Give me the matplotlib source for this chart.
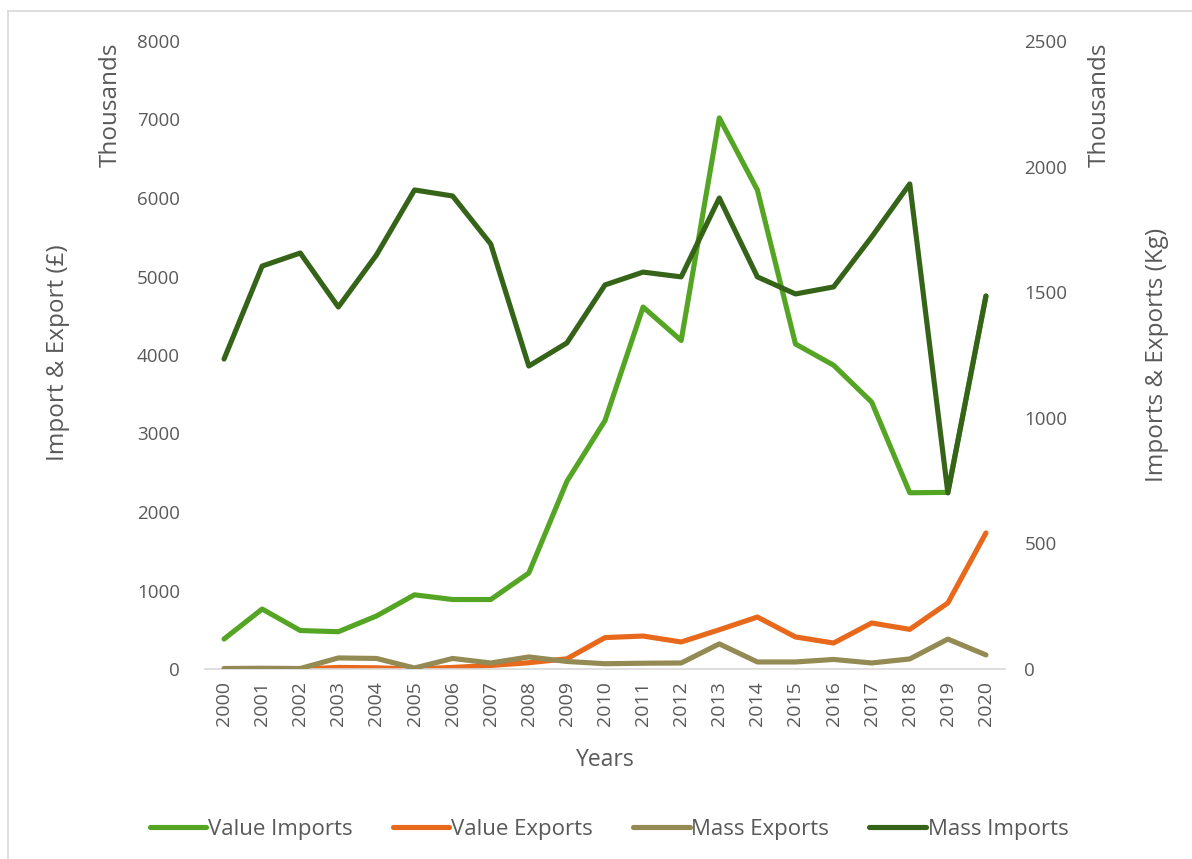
import matplotlib
matplotlib.use("Agg")
import matplotlib.pyplot as plt
from matplotlib import font_manager as fm
from matplotlib.lines import Line2D

years = [str(y) for y in range(2000, 2021)]
value_imports = [382, 764, 490, 475, 675, 945, 885, 885, 1223, 2390, 3165,
                 4611, 4185, 7020, 6102, 4140, 3870, 3400, 2245, 2250, 4750]
value_exports = [0, 5, 0, 20, 15, 0, 20, 45, 80, 130, 400,
                 420, 344, 500, 662, 408, 331, 586, 505, 841, 1733]
mass_exports = [2, 3, 2, 44, 42, 4, 42, 24, 48, 30, 21,
                23, 24, 100, 28, 28, 38, 24, 40, 119, 56]
mass_imports = [1234, 1604, 1656, 1441, 1648, 1907, 1883, 1692, 1206, 1298, 1529,
                1580, 1561, 1875, 1561, 1493, 1521, 1720, 1931, 701, 1485]

names = {f.name for f in fm.fontManager.ttflist}
tick_font = "Open Sans" if "Open Sans" in names else "DejaVu Sans"
label_font = "Liberation Sans Narrow" if "Liberation Sans Narrow" in names else tick_font

TXT = "#595959"
C_VI = "#55a524"
C_VE = "#e8681c"
C_ME = "#948a54"
C_MI = "#356419"
LW = 3.7

fig = plt.figure(figsize=(11.92, 8.59), dpi=100)
W, H = 1192, 859
ax = fig.add_axes([205 / W, 1 - 669 / H, 800 / W, 628 / H])
ax2 = ax.twinx()

x = list(range(len(years)))
ax.plot(x, value_imports, color=C_VI, lw=LW, solid_capstyle="round", solid_joinstyle="round")
ax.plot(x, value_exports, color=C_VE, lw=LW, solid_capstyle="round", solid_joinstyle="round")
ax2.plot(x, mass_exports, color=C_ME, lw=LW, solid_capstyle="round", solid_joinstyle="round")
ax2.plot(x, mass_imports, color=C_MI, lw=LW, solid_capstyle="round", solid_joinstyle="round")

ax.set_xlim(-0.5, len(years) - 0.5)
ax.set_ylim(0, 8000)
ax2.set_ylim(0, 2500)
ax.set_yticks(range(0, 8001, 1000))
ax2.set_yticks(range(0, 2501, 500))
ax.set_xticks(x)
ax.set_xticklabels(years, rotation=90, fontsize=14, color=TXT, fontfamily=tick_font)
for t in ax.get_yticklabels():
    t.set_fontsize(13.5); t.set_color(TXT); t.set_fontfamily(tick_font)
for t in ax2.get_yticklabels():
    t.set_fontsize(13.5); t.set_color(TXT); t.set_fontfamily(tick_font)

ax.tick_params(axis="both", length=0)
ax.tick_params(axis="y", pad=18)
ax.tick_params(axis="x", pad=9)
ax2.tick_params(axis="y", length=0, pad=14)
for a in (ax, ax2):
    for s in ("top", "right", "left"):
        a.spines[s].set_visible(False)
    a.spines["bottom"].set_color("#d9d9d9")
    a.spines["bottom"].set_linewidth(1.2)
ax2.spines["bottom"].set_visible(False)

fig.text(605 / W, 1 - 760 / H, "Years", ha="center", va="center", fontsize=16.5,
         color=TXT, fontfamily=label_font)
fig.text(58 / W, 1 - 353 / H, "Import & Export (£)", ha="center", va="center",
         rotation=90, fontsize=17.5, color=TXT, fontfamily=label_font)
fig.text(111 / W, 1 - 105 / H, "Thousands", ha="center", va="center",
         rotation=90, fontsize=17.5, color=TXT, fontfamily=label_font)
fig.text(1100 / W, 1 - 105 / H, "Thousands", ha="center", va="center",
         rotation=90, fontsize=17.5, color=TXT, fontfamily=label_font)
fig.text(1157 / W, 1 - 355 / H, "Imports & Exports (Kg)", ha="center", va="center",
         rotation=90, fontsize=17.5, color=TXT, fontfamily=label_font)

handles = [Line2D([], [], color=c, lw=LW, solid_capstyle="round") for c in (C_VI, C_VE, C_ME, C_MI)]
labels = ["Value Imports", "Value Exports", "Mass Exports", "Mass Imports"]
leg = fig.legend(handles, labels, loc="center", bbox_to_anchor=(609 / W, 1 - 829 / H),
                 ncol=4, frameon=False, handlelength=2.55, handletextpad=0.08,
                 columnspacing=1.8, prop={"family": label_font, "size": 16})
for t in leg.get_texts():
    t.set_color(TXT)

# outer chart border (left and top visible)
fig.add_artist(Line2D([8 / W, 8 / W], [0, 1 - 11 / H], color="#d9d9d9", lw=1.2, transform=fig.transFigure))
fig.add_artist(Line2D([8 / W, 1], [1 - 11 / H, 1 - 11 / H], color="#d9d9d9", lw=1.2, transform=fig.transFigure))

fig.savefig("out.png", dpi=100, facecolor="white")
